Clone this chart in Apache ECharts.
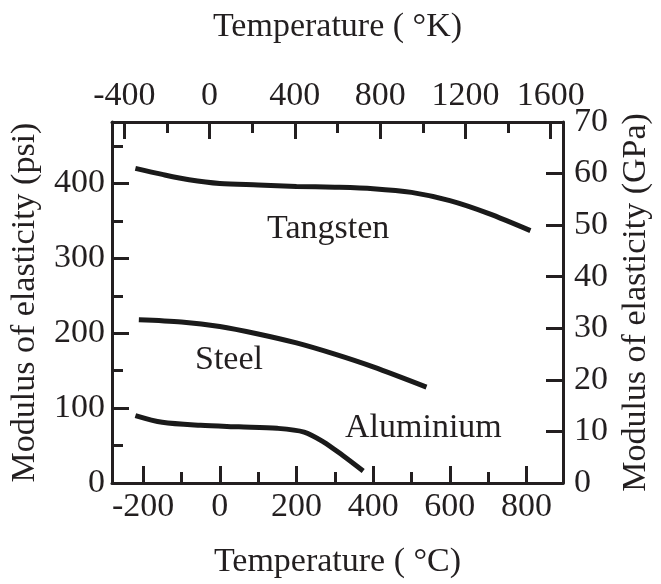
<!DOCTYPE html>
<html><head><meta charset="utf-8">
<script src="https://cdn.jsdelivr.net/npm/echarts@6/dist/echarts.min.js"></script>
<style>html,body{margin:0;padding:0;background:#fff}#c{width:661px;height:584px}</style>
</head><body><div id="c"></div>
<script>
// Data (x in °C, y in psi)
const tungstenC = [-220, -150, -80, 0, 100, 200, 300, 400, 500, 600, 700, 810];
const tungstenPsi = [420, 412, 405, 400, 398, 396, 395, 393, 388, 377, 360, 337];
const steelC = [-211, -100, 0, 100, 200, 300, 400, 539];
const steelPsi = [218, 215, 209, 199, 187, 172, 155, 128];
const aluC = [-220, -150, -50, 50, 150, 220, 270, 320, 374];
const aluPsi = [90, 81, 77, 75, 73, 68, 55, 37, 16];

const celsiusMajor = [-200, 0, 200, 400, 600, 800];
const celsiusMinor = [-100, 100, 300, 500, 700];
const kelvinMajor = [-400, 0, 400, 800, 1200, 1600];
const kelvinMinor = [-200, 200, 600, 1000, 1400];
const psiMajor = [0, 100, 200, 300, 400];
const psiMinor = [50, 150, 250, 350, 450];
const gpaTicks = [0, 10, 20, 30, 40, 50, 60, 70];

const seriesNames = ['Tangsten', 'Steel', 'Aluminium'];

const FONT = 'Liberation Serif';
const INK = '#231f20';
const lbl = {fontFamily: FONT, fontSize: 34, color: INK};
const fmt = v => String(v);
const zip = (a, b) => a.map((v, i) => [v, b[i]]);

function xAx(pos, min, max, major, minor, isMinor, name, gap) {
  return {
    type: 'value', position: pos, min: min, max: max,
    name: isMinor ? '' : name, nameLocation: 'middle', nameGap: gap,
    nameTextStyle: lbl,
    axisLine: {show: !isMinor, onZero: false, lineStyle: {color: INK, width: 3}},
    axisTick: {show: true, inside: true, length: isMinor ? 11 : 17,
      customValues: isMinor ? minor : major, lineStyle: {color: INK, width: 3}},
    axisLabel: {show: !isMinor, customValues: major, formatter: fmt, margin: pos === 'top' ? 9 : 7, ...lbl},
    splitLine: {show: false}
  };
}

const option = {
  animation: false,
  grid: {left: 111, right: 88, top: 122, bottom: 100, containLabel: false},
  xAxis: [
    xAx('bottom', -281, 895, celsiusMajor, celsiusMinor, false, 'Temperature ( °C)', 62),
    xAx('bottom', -281, 895, celsiusMajor, celsiusMinor, true, '', 0),
    xAx('top', -458, 1658, kelvinMajor, kelvinMinor, false, 'Temperature ( °K)', 78),
    xAx('top', -458, 1658, kelvinMajor, kelvinMinor, true, '', 0)
  ],
  yAxis: [
    {type: 'value', position: 'left', min: 0, max: 482,
      name: 'Modulus of elasticity (psi)', nameLocation: 'middle', nameGap: 70, nameRotate: 90,
      nameTextStyle: lbl,
      axisLine: {show: true, onZero: false, lineStyle: {color: INK, width: 3}},
      axisTick: {show: true, inside: true, length: 17, customValues: psiMajor, lineStyle: {color: INK, width: 3}},
      axisLabel: {customValues: psiMajor, formatter: fmt, margin: 7, ...lbl},
      splitLine: {show: false}},
    {type: 'value', position: 'left', min: 0, max: 482,
      axisLine: {show: false, onZero: false},
      axisTick: {show: true, inside: true, length: 11, customValues: psiMinor, lineStyle: {color: INK, width: 3}},
      axisLabel: {show: false}, splitLine: {show: false}},
    {type: 'value', position: 'right', min: 0, max: 70, interval: 10,
      name: 'Modulus of elasticity (GPa)', nameLocation: 'middle', nameGap: 56, nameRotate: 90,
      nameTextStyle: lbl,
      axisLine: {show: true, onZero: false, lineStyle: {color: INK, width: 3}},
      axisTick: {show: true, inside: true, length: 17, customValues: gpaTicks, lineStyle: {color: INK, width: 3}},
      axisLabel: {customValues: gpaTicks, formatter: fmt, margin: 11, ...lbl},
      splitLine: {show: false}}
  ],
  series: [
    {name: seriesNames[0], type: 'line', data: zip(tungstenC, tungstenPsi)},
    {name: seriesNames[1], type: 'line', data: zip(steelC, steelPsi)},
    {name: seriesNames[2], type: 'line', data: zip(aluC, aluPsi)}
  ].map(s => Object.assign(s, {xAxisIndex: 0, yAxisIndex: 0, smooth: 0.3,
    showSymbol: false, symbol: 'none', lineStyle: {color: '#1a1a1a', width: 5, cap: 'butt'}})),
  graphic: [
    {type: 'text', left: 267, top: 212, style: {text: seriesNames[0], font: '34px "Liberation Serif"', fill: INK}},
    {type: 'text', left: 195, top: 343, style: {text: seriesNames[1], font: '34px "Liberation Serif"', fill: INK}},
    {type: 'text', left: 345, top: 411, style: {text: seriesNames[2], font: '34px "Liberation Serif"', fill: INK}}
  ]
};
const chart = echarts.init(document.getElementById('c'), null, {renderer: 'canvas'});
chart.setOption(option);
</script></body></html>
